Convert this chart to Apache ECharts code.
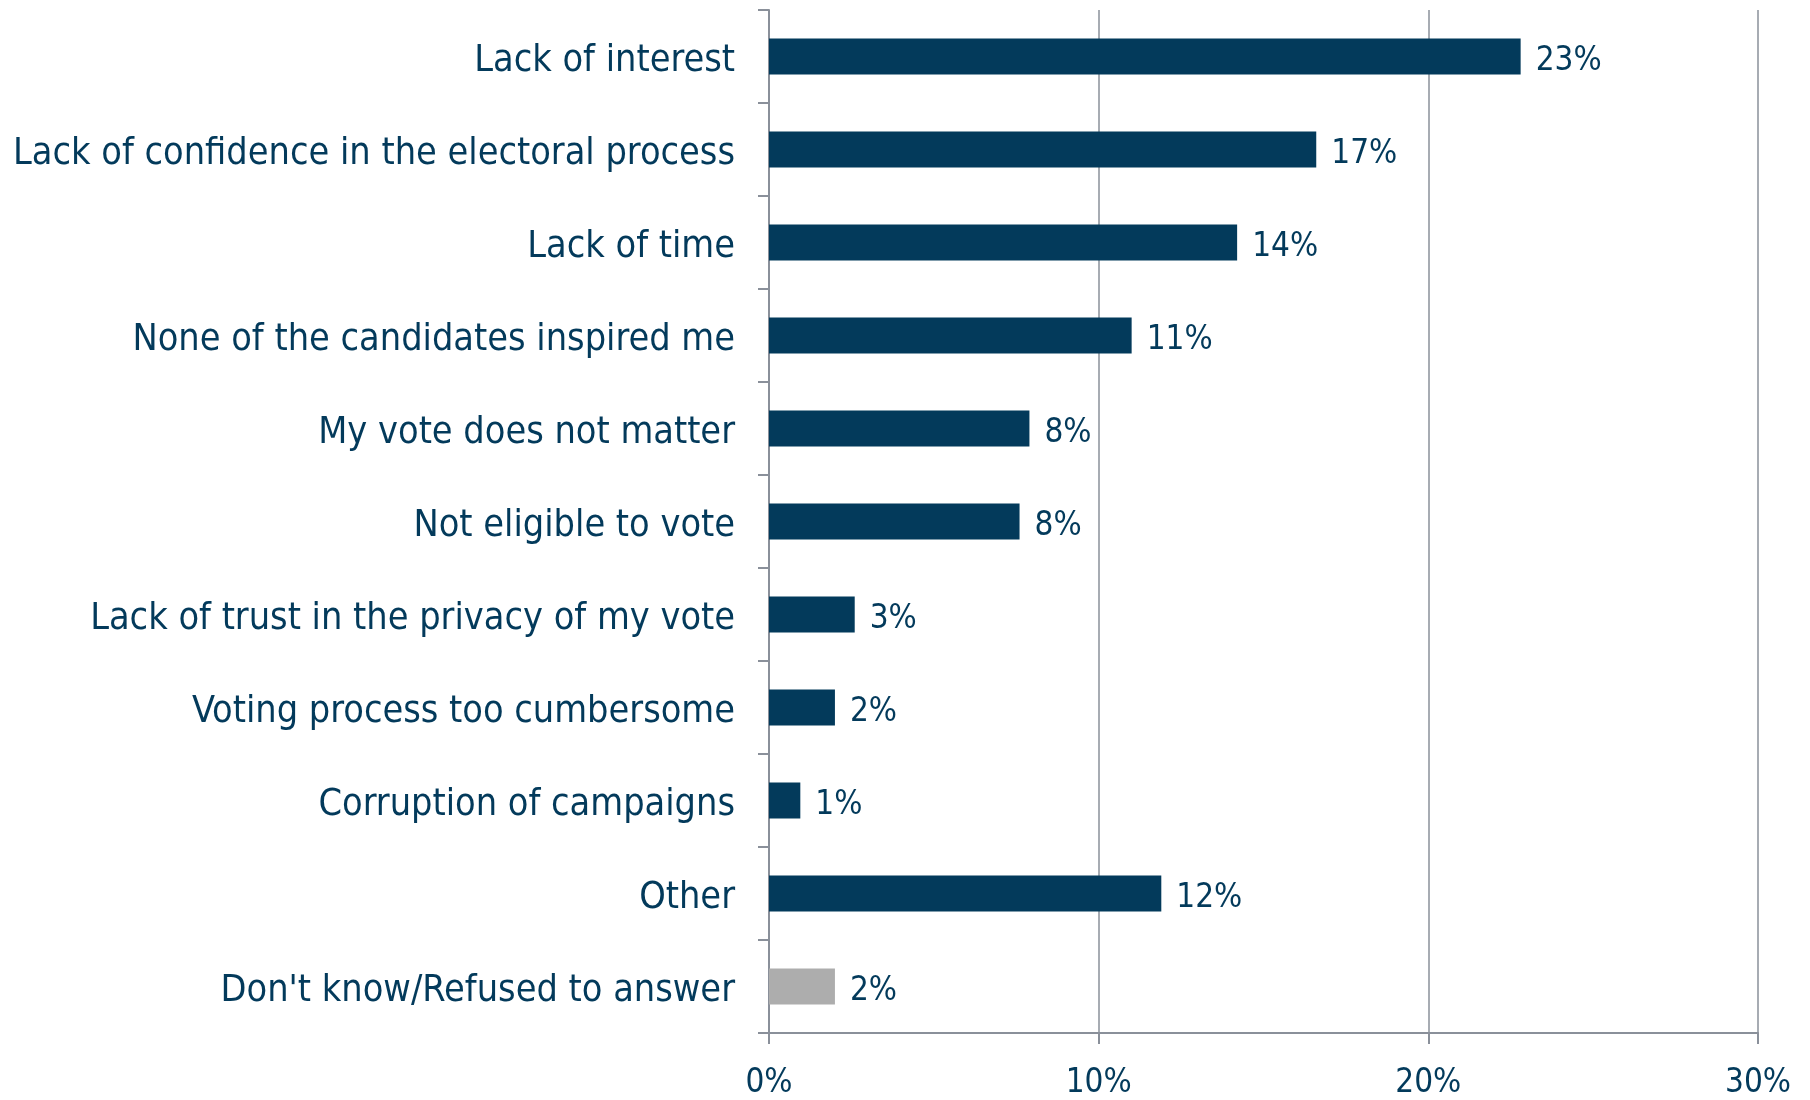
<!DOCTYPE html>
<html>
<head>
<meta charset="utf-8">
<script src="https://cdn.jsdelivr.net/npm/echarts@6/dist/echarts.min.js"></script>
<style>
html,body{margin:0;padding:0;background:#fff;}
#chart{width:1810px;height:1100px;}
</style>
</head>
<body>
<div id="chart"></div>
<script>
var categories = [
  "Lack of interest",
  "Lack of confidence in the electoral process",
  "Lack of time",
  "None of the candidates inspired me",
  "My vote does not matter",
  "Not eligible to vote",
  "Lack of trust in the privacy of my vote",
  "Voting process too cumbersome",
  "Corruption of campaigns",
  "Other",
  "Don't know/Refused to answer"
];
var values = [22.8, 16.6, 14.2, 11.0, 7.9, 7.6, 2.6, 2.0, 0.95, 11.9, 2.0];
var xTicks = [0, 10, 20, 30];
var greyCategory = "Don't know/Refused to answer";

var NAVY = '#033a5b';
var GREY = '#adadad';
var AXIS = '#8a909a';
var FONT = 'DejaVu Sans Condensed';

var chart = echarts.init(document.getElementById('chart'));
chart.setOption({
  animation: false,
  backgroundColor: '#ffffff',
  grid: {left: 769, right: 52, top: 10, bottom: 66, containLabel: false},
  xAxis: {
    type: 'value',
    min: xTicks[0],
    max: xTicks[xTicks.length - 1],
    interval: xTicks[1] - xTicks[0],
    axisLine: {show: true, lineStyle: {color: AXIS, width: 2}},
    axisTick: {show: true, length: 11, lineStyle: {color: AXIS, width: 2}},
    splitLine: {show: true, lineStyle: {color: AXIS, width: 1.5}},
    axisLabel: {
      formatter: '{value}%', color: NAVY, fontFamily: FONT, fontSize: 33, margin: 34
    }
  },
  yAxis: {
    type: 'category',
    data: categories,
    inverse: true,
    axisLine: {show: true, lineStyle: {color: AXIS, width: 2}},
    axisTick: {show: true, length: 11, lineStyle: {color: AXIS, width: 2}},
    axisLabel: {
      color: NAVY, fontFamily: FONT, fontSize: 37.5, margin: 34,
      verticalAlign: 'top', lineHeight: 10
    }
  },
  series: [{
    type: 'bar',
    barWidth: 36,
    data: values.map(function (v, i) {
      return {value: v, itemStyle: {color: categories[i] === greyCategory ? GREY : NAVY}};
    }),
    label: {
      show: true, position: 'right', distance: 15,
      color: NAVY, fontFamily: FONT, fontSize: 33,
      verticalAlign: 'top', lineHeight: 10,
      formatter: function (p) { return Math.round(p.value) + '%'; }
    }
  }]
});
</script>
</body>
</html>
